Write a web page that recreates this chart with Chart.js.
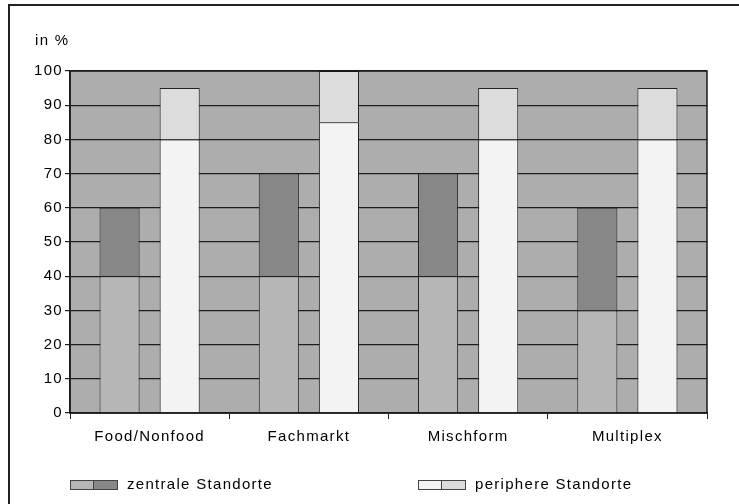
<!DOCTYPE html>
<html>
<head>
<meta charset="utf-8">
<script src="https://cdn.jsdelivr.net/npm/chart.js@4.4.7/dist/chart.umd.min.js"></script>
<style>
  html, body { margin: 0; padding: 0; background: #fff; }
  #wrap { width: 739px; height: 504px; position: relative; }
</style>
</head>
<body>
<div id="wrap"><canvas id="chart" width="739" height="504"></canvas></div>
<script>
const categories = ["Food/Nonfood", "Fachmarkt", "Mischform", "Multiplex"];
const zentraleBase = [40, 40, 40, 30];
const zentraleTop = [20, 30, 30, 30];
const periphereBase = [80, 85, 80, 80];
const periphereTop = [15, 15, 15, 15];
const yTicks = [0, 10, 20, 30, 40, 50, 60, 70, 80, 90, 100];

const FONT = "'Liberation Sans', Arial, sans-serif";
const SPACING = "1.3px";
const colZBase = "#b6b6b6", colZTop = "#878787";
const colPBase = "#f3f3f3", colPTop = "#dcdcdc";

// plot background, frame, page border, legend and unit label
const decor = {
    id: "decor",
    beforeUpdate(chart) { chart.ctx.letterSpacing = SPACING; },
    beforeDraw(chart) {
        const { ctx, chartArea: a } = chart;
        ctx.letterSpacing = SPACING;
        ctx.save();
        ctx.fillStyle = "#adadad";
        ctx.fillRect(a.left, a.top, a.right - a.left, a.bottom - a.top);
        ctx.restore();
    },
    afterDraw(chart) {
        const { ctx, chartArea: a } = chart;
        ctx.save();
        // frame of the plot
        ctx.strokeStyle = "#1a1a1a";
        ctx.lineWidth = 1.5;
        ctx.strokeRect(a.left, a.top, a.right - a.left, a.bottom - a.top);
        // page border (top and left only)
        ctx.lineWidth = 2;
        ctx.strokeStyle = "#222";
        ctx.beginPath();
        ctx.moveTo(739, 5);
        ctx.lineTo(9, 5);
        ctx.lineTo(9, 504);
        ctx.stroke();
        // unit label
        ctx.fillStyle = "#000";
        ctx.font = "15px " + FONT;
        ctx.textBaseline = "middle";
        ctx.textAlign = "left";
        ctx.fillText("in %", 35, 41);
        // legend
        const items = [
            { x: 70, cols: [colZBase, colZTop], split: 23, label: "zentrale Standorte" },
            { x: 418, cols: [colPBase, colPTop], split: 23, label: "periphere Standorte" },
        ];
        items.forEach(it => {
            const y = 480, w = 47, h = 9;
            ctx.fillStyle = it.cols[0];
            ctx.fillRect(it.x, y, it.split, h);
            ctx.fillStyle = it.cols[1];
            ctx.fillRect(it.x + it.split, y, w - it.split, h);
            ctx.strokeStyle = "#444";
            ctx.lineWidth = 1;
            ctx.strokeRect(it.x + 0.5, y + 0.5, w, h);
            ctx.beginPath();
            ctx.moveTo(it.x + it.split + 0.5, y);
            ctx.lineTo(it.x + it.split + 0.5, y + h);
            ctx.stroke();
            ctx.fillStyle = "#000";
            ctx.fillText(it.label, it.x + 57, y + 5);
        });
        ctx.restore();
    },
};

new Chart(document.getElementById("chart"), {
    type: "bar",
    data: {
        labels: categories,
        datasets: [
            { label: "zentral unten", data: zentraleBase, stack: "z", backgroundColor: colZBase },
            { label: "zentral oben", data: zentraleTop, stack: "z", backgroundColor: colZTop },
            { label: "peripher unten", data: periphereBase, stack: "p", backgroundColor: colPBase },
            { label: "peripher oben", data: periphereTop, stack: "p", backgroundColor: colPTop },
        ],
    },
    options: {
        responsive: false,
        animation: false,
        events: [],
        devicePixelRatio: 1,
        layout: { padding: { left: 0, right: 32, top: 71, bottom: 0 } },
        datasets: {
            bar: {
                categoryPercentage: 0.755,
                barPercentage: 0.667,
                borderColor: "#222",
                borderWidth: 1,
            },
        },
        plugins: {
            legend: { display: false },
            tooltip: { enabled: false },
        },
        scales: {
            x: {
                stacked: true,
                afterFit(scale) { scale.height = 91; },
                grid: { display: true, drawOnChartArea: false, drawTicks: true, tickLength: 6, color: "#222", lineWidth: 1 },
                border: { display: true, color: "#1a1a1a", width: 1.5 },
                ticks: { color: "#000", font: { family: FONT, size: 15 }, padding: 9, maxRotation: 0 },
            },
            y: {
                stacked: true,
                min: 0,
                max: 100,
                afterFit(scale) { scale.width = 70; },
                afterBuildTicks(scale) { scale.ticks = yTicks.map(v => ({ value: v })); },
                grid: { color: "#1e1e1e", lineWidth: 1.2, tickLength: 5 },
                border: { display: true, color: "#1a1a1a", width: 1.5 },
                ticks: { color: "#000", font: { family: FONT, size: 15 }, padding: 2 },
            },
        },
    },
    plugins: [decor],
});
</script>
</body>
</html>
